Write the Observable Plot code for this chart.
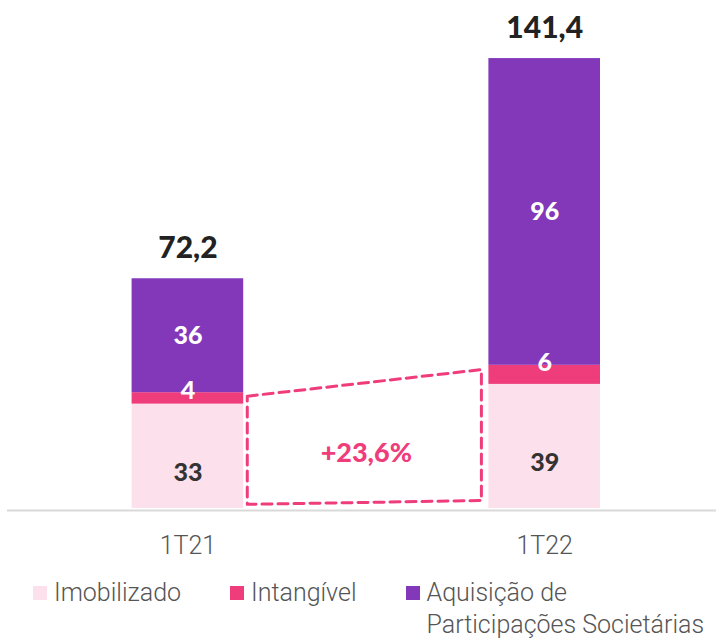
<!DOCTYPE html>
<html>
<head>
<meta charset="utf-8">
<script src="https://cdn.jsdelivr.net/npm/d3@7"></script>
<script src="https://cdn.jsdelivr.net/npm/@observablehq/plot@0.6"></script>
<style>
  body { margin: 0; background: #fff; }
  #chart { width: 716px; }
  .legend { display: flex; align-items: flex-start; padding-left: 33px; margin-top: 12px;
    font-family: Roboto, sans-serif; font-weight: 300; font-size: 25px; color: #555; line-height: 32px; }
  .legend .item { display: flex; align-items: flex-start; margin-right: 49px; }
  .legend .sw { width: 14px; height: 14px; margin-top: 9px; margin-right: 7px; flex: none; }
</style>
</head>
<body>
<div id="chart"></div>
<script>
const periods = ["1T21", "1T22"];
const imobilizado = [32.8, 39.0];
const intangivel = [3.6, 6.0];
const aquisicao = [35.8, 96.4];
const totals = [72.2, 141.4];
const growthLabel = "+23,6%";
const seriesNames = ["Imobilizado", "Intangível", "Aquisição de Participações Societárias"];
const colors = ["#FCE1EC", "#EF3D7C", "#8338BA"];

const hw = 0.1564;
const fmt = v => v.toFixed(1).replace(".", ",");

const rows = [];
periods.forEach((p, i) => {
  const vals = [imobilizado[i], intangivel[i], aquisicao[i]];
  let c = 0;
  vals.forEach((v, s) => {
    rows.push({i, s, series: seriesNames[s], y1: c, y2: c + v, v});
    c += v;
  });
});

const lowerTop = periods.map((p, i) => imobilizado[i] + intangivel[i]);
const poly = [
  {x: 0 + hw + 0.01, y: lowerTop[0] - 1.1},
  {x: 1 - hw - 0.021, y: lowerTop[1] - 1.35},
  {x: 1 - hw - 0.021, y: 2.5},
  {x: 0 + hw + 0.01, y: 1.3},
  {x: 0 + hw + 0.01, y: lowerTop[0] - 1.1}
];

const boldFont = "Lato, sans-serif";

const chart = Plot.plot({
  width: 716,
  height: 565,
  marginLeft: 7,
  marginRight: 0,
  marginTop: 0,
  marginBottom: 57,
  style: {fontFamily: "Roboto, sans-serif", color: "#555", background: "#fff"},
  x: {type: "linear", domain: [-0.5056, 1.4815], axis: null},
  y: {domain: [0, 159.65], axis: null},
  marks: [
    Plot.rect(rows, {x1: d => d.i - hw, x2: d => d.i + hw, y1: "y1", y2: "y2", fill: d => colors[d.s]}),
    Plot.ruleY([0], {stroke: "#d9d9d9", strokeWidth: 2, dy: 2}),
    Plot.line(poly, {x: "x", y: "y", stroke: "#EF3D7C", strokeWidth: 3, strokeDasharray: "10,6"}),
    Plot.text(rows.filter(d => d.s === 2), {x: "i", y: d => (d.y1 + d.y2) / 2, text: d => String(Math.round(d.v)),
      fill: "#fff", fontSize: 25, fontWeight: 900, fontFamily: boldFont}),
    Plot.text(rows.filter(d => d.s === 1), {x: "i", y: "y2", dy: -2, text: d => String(Math.round(d.v)),
      fill: "#fff", fontSize: 25, fontWeight: 900, fontFamily: boldFont}),
    Plot.text(rows.filter(d => d.s === 0), {x: "i", y: d => (d.y1 + d.y2) / 2, dy: 17, text: d => String(Math.round(d.v)),
      fill: "#333", fontSize: 25, fontWeight: 900, fontFamily: boldFont}),
    Plot.text(totals, {x: (d, i) => i, y: d => d, dy: -30, text: d => fmt(d),
      fill: "#222", fontSize: 30, fontWeight: 900, fontFamily: boldFont}),
    Plot.text([growthLabel], {x: 0.5, y: lowerTop[0] / 2, dy: 3, text: d => d,
      fill: "#EF3D7C", fontSize: 27, fontWeight: 900, fontFamily: boldFont}),
    Plot.axisX({ticks: [0, 1], tickFormat: i => periods[i], tickSize: 0, tickPadding: 28,
      fontSize: 25, fontWeight: 300, fill: "#555"})
  ]
});
document.getElementById("chart").appendChild(chart);

const legend = document.createElement("div");
legend.className = "legend";
const labelsHtml = ["Imobilizado", "Intangível", "Aquisição de<br>Participações Societárias"];
labelsHtml.forEach((t, s) => {
  const it = document.createElement("div");
  it.className = "item";
  if (s === 2) it.style.marginRight = "0";
  it.innerHTML = `<span class="sw" style="background:${colors[s]}"></span><span>${t}</span>`;
  legend.appendChild(it);
});
document.getElementById("chart").appendChild(legend);
</script>
</body>
</html>
